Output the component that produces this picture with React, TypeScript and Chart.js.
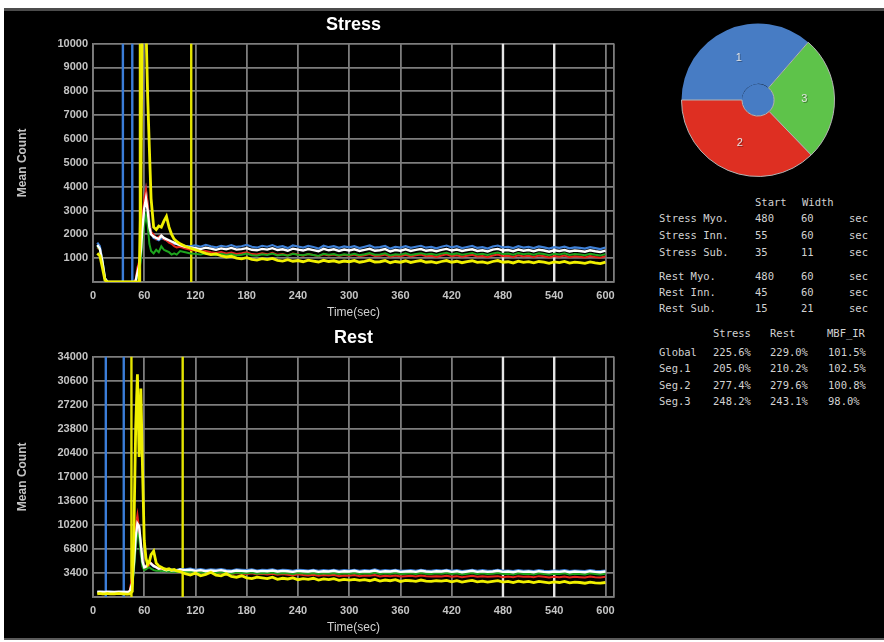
import React, { useEffect, useRef } from 'react';
import { Chart, registerables } from 'chart.js';

Chart.register(...registerables);

// ---------- data ----------
const sampleTimes = [
  5, 8, 11, 14, 17, 20, 25, 30, 35, 40, 43, 46, 48, 50, 52, 54, 56, 58, 60, 62, 64, 66, 68, 71, 74, 77, 80, 83, 86, 89, 92, 95, 98,
  102, 108, 114, 120, 126, 132, 138, 144, 150, 156, 162, 168, 174, 180, 186, 192, 198,
  204, 210, 216, 222, 228, 234, 240, 246, 252, 258, 264, 270, 276, 282, 288, 294, 300,
  306, 312, 318, 324, 330, 336, 342, 348, 354, 360, 366, 372, 378, 384, 390, 396, 402,
  408, 414, 420, 426, 432, 438, 444, 450, 456, 462, 468, 474, 480, 486, 492, 498, 504,
  510, 516, 522, 528, 534, 540, 546, 552, 558, 564, 570, 576, 582, 588, 594, 600,
];

const stressBlue = [
  1650, 1500, 900, 150, 0, 0, 0, 0, 0, 0, 0, 0, 0,
  50, 300, 600, 1200, 2200, 3200, 3800, 3200, 2500, 2100, 1850, 1800, 1750, 1850, 1800, 1750, 1700, 1650, 1600, 1600,
  1550, 1520, 1500, 1540, 1480, 1560, 1500, 1450, 1520, 1480, 1550, 1470, 1500, 1560, 1480, 1440, 1520,
  1480, 1550, 1460, 1500, 1420, 1530, 1490, 1440, 1510, 1470, 1400, 1520, 1460, 1500, 1430, 1490, 1450,
  1500, 1420, 1480, 1530, 1440, 1460, 1510, 1400, 1470, 1440, 1500, 1430, 1480, 1520, 1440, 1470, 1410,
  1480, 1530, 1450, 1500, 1420, 1470, 1510, 1430, 1460, 1400, 1490, 1530, 1450, 1470, 1420, 1500, 1440,
  1470, 1420, 1490, 1450, 1400, 1460, 1430, 1480, 1410, 1450, 1430, 1400, 1460, 1420, 1380, 1450,
];
const stressRed = [
  1450, 1350, 800, 120, 0, 0, 0, 0, 0, 0, 0, 0, 0,
  100, 600, 850, 1500, 2700, 3500, 3900, 3300, 2400, 2100, 2000, 1800, 1900, 1950, 1800, 1750, 1650, 1600, 1500, 1450,
  1480, 1400, 1350, 1320, 1280, 1300, 1250, 1220, 1260, 1200, 1240, 1180, 1210, 1250, 1170, 1150, 1200,
  1160, 1220, 1140, 1170, 1110, 1190, 1150, 1100, 1170, 1130, 1080, 1160, 1110, 1150, 1090, 1140, 1100,
  1150, 1080, 1120, 1170, 1090, 1100, 1150, 1060, 1110, 1080, 1140, 1070, 1120, 1150, 1080, 1100, 1050,
  1110, 1160, 1080, 1120, 1060, 1100, 1140, 1070, 1090, 1040, 1110, 1150, 1080, 1100, 1050, 1120, 1070,
  1100, 1050, 1110, 1080, 1030, 1090, 1060, 1110, 1040, 1080, 1060, 1030, 1090, 1050, 1020, 1080,
];
const stressGreen = [
  1500, 1350, 850, 130, 0, 0, 0, 0, 0, 0, 0, 0, 0,
  0, 300, 500, 900, 1700, 2400, 2800, 2400, 1600, 1300, 1200, 1350, 1250, 1500, 1350, 1300, 1250, 1150, 1200, 1150,
  1300, 1250, 1200, 1180, 1150, 1200, 1160, 1120, 1180, 1130, 1170, 1110, 1140, 1190, 1120, 1100, 1160,
  1130, 1190, 1110, 1150, 1100, 1180, 1140, 1120, 1170, 1130, 1090, 1180, 1140, 1170, 1110, 1160, 1130,
  1180, 1120, 1160, 1210, 1140, 1150, 1200, 1110, 1160, 1140, 1200, 1130, 1170, 1210, 1150, 1180, 1130,
  1190, 1230, 1160, 1200, 1140, 1180, 1220, 1150, 1180, 1130, 1200, 1240, 1170, 1190, 1140, 1210, 1160,
  1190, 1140, 1200, 1170, 1120, 1180, 1150, 1200, 1130, 1170, 1150, 1120, 1180, 1140, 1110, 1170,
];
const stressWhite = [
  1550, 1400, 850, 150, 0, 0, 0, 0, 0, 0, 0, 0, 0,
  50, 400, 700, 1300, 2300, 3100, 3500, 3000, 2300, 2000, 1900, 1850, 1800, 1950, 1850, 1800, 1750, 1700, 1650, 1600,
  1550, 1480, 1450, 1420, 1380, 1440, 1400, 1350, 1410, 1370, 1430, 1360, 1380, 1420, 1350, 1330, 1390,
  1360, 1420, 1340, 1370, 1310, 1400, 1360, 1320, 1380, 1340, 1290, 1390, 1330, 1370, 1300, 1360, 1320,
  1370, 1300, 1350, 1390, 1310, 1330, 1380, 1280, 1340, 1310, 1370, 1300, 1350, 1380, 1310, 1340, 1290,
  1350, 1390, 1320, 1360, 1300, 1340, 1370, 1300, 1330, 1280, 1360, 1390, 1320, 1340, 1290, 1360, 1310,
  1340, 1290, 1350, 1320, 1270, 1330, 1300, 1340, 1280, 1320, 1300, 1270, 1330, 1290, 1260, 1320,
];
const stressYellow = [
  1200, 1100, 600, 80, 0, 0, 0, 0, 0, 0, 0, 0, 0,
  0, 0, 0, 3500, 13000, 11000, 10800, 7800, 5600, 3500, 2300, 2200, 2350, 2300, 2550, 2750, 2300, 2000, 1800, 1700,
  1600, 1500, 1420, 1350, 1280, 1200, 1150, 1180, 1100, 1050, 1080, 1000, 970, 1020, 950, 920, 980,
  940, 990, 910, 880, 940, 870, 900, 850, 920, 880, 840, 910, 860, 890, 830, 880, 850,
  900, 830, 870, 920, 840, 850, 900, 810, 860, 830, 890, 820, 860, 900, 830, 850, 800,
  860, 900, 830, 870, 810, 850, 890, 820, 840, 790, 860, 900, 830, 850, 800, 870, 820,
  850, 800, 860, 830, 780, 840, 810, 860, 790, 830, 810, 780, 840, 800, 770, 830,
];

const restBlue = [
  750, 700, 750, 700, 700, 750, 700, 700, 750, 700, 800,
  1800, 4500, 8000, 10000, 9800, 7200, 4800, 4100, 4200, 4500, 4800, 4600, 4300, 4200, 4000, 4100, 3900, 3950, 3850, 3900, 3800, 3850,
  3950, 3900, 4000, 3850, 3950, 3800, 3900, 3850, 3950, 3800, 3750, 3900, 3850, 3800, 3900, 3750, 3850,
  3800, 3900, 3750, 3850, 3800, 3700, 3850, 3800, 3750, 3850, 3700, 3800, 3750, 3850, 3700, 3800, 3750,
  3850, 3700, 3800, 3750, 3900, 3700, 3800, 3750, 3850, 3700, 3750, 3800, 3700, 3850, 3750, 3700, 3800,
  3750, 3850, 3700, 3800, 3650, 3750, 3850, 3700, 3800, 3700, 3750, 3850, 3700, 3750, 3650, 3800, 3700,
  3750, 3650, 3800, 3700, 3650, 3750, 3700, 3800, 3650, 3750, 3700, 3650, 3800, 3700, 3650, 3750,
];
const restRed = [
  600, 550, 600, 600, 550, 600, 550, 600, 550, 600, 900,
  3000, 6500, 10000, 11600, 9500, 7000, 5000, 4200, 4000, 4200, 4600, 4800, 4500, 4200, 4000, 3900, 3800, 3900, 3700, 3800, 3700, 3650,
  3700, 3600, 3650, 3450, 3550, 3400, 3500, 3350, 3450, 3300, 3250, 3400, 3300, 3250, 3350, 3200, 3300,
  3200, 3300, 3150, 3250, 3150, 3050, 3200, 3100, 3050, 3150, 3000, 3100, 3050, 3150, 2950, 3050, 3000,
  3100, 2950, 3050, 3000, 3100, 2900, 3000, 2950, 3050, 2900, 2950, 3000, 2900, 3050, 2950, 2900, 2950,
  2900, 3000, 2850, 2950, 2800, 2900, 3000, 2850, 2950, 2850, 2900, 2950, 2800, 2900, 2800, 2950, 2850,
  2900, 2800, 2950, 2850, 2750, 2850, 2800, 2900, 2750, 2850, 2800, 2750, 2900, 2800, 2750, 2850,
];
const restGreen = [
  500, 550, 500, 500, 550, 500, 500, 550, 500, 500, 600,
  1500, 4000, 7000, 9000, 8500, 6000, 4300, 3800, 3900, 4100, 4200, 4000, 3800, 3700, 3750, 3650, 3700, 3600, 3650, 3550, 3600, 3550,
  3600, 3550, 3600, 3450, 3500, 3400, 3450, 3400, 3500, 3350, 3300, 3450, 3400, 3350, 3450, 3300, 3400,
  3350, 3450, 3300, 3400, 3350, 3250, 3400, 3350, 3300, 3400, 3250, 3350, 3300, 3400, 3250, 3350, 3300,
  3400, 3250, 3350, 3300, 3450, 3250, 3350, 3300, 3400, 3250, 3300, 3350, 3250, 3400, 3300, 3250, 3350,
  3300, 3400, 3250, 3350, 3200, 3300, 3400, 3250, 3350, 3250, 3300, 3400, 3250, 3300, 3200, 3350, 3250,
  3300, 3200, 3350, 3250, 3200, 3300, 3250, 3350, 3200, 3300, 3250, 3200, 3350, 3250, 3200, 3300,
];
const restWhite = [
  700, 750, 700, 700, 750, 700, 700, 750, 700, 700, 800,
  2000, 5000, 8500, 10400, 10000, 7500, 5000, 4200, 4300, 4700, 5000, 4700, 4400, 4200, 4000, 4100, 3900, 3800, 3900, 3750, 3800, 3700,
  3900, 3800, 3850, 3700, 3800, 3650, 3750, 3700, 3800, 3650, 3600, 3750, 3700, 3650, 3750, 3600, 3700,
  3650, 3750, 3600, 3700, 3650, 3550, 3700, 3650, 3600, 3700, 3550, 3650, 3600, 3700, 3550, 3650, 3600,
  3700, 3550, 3650, 3600, 3750, 3550, 3650, 3600, 3700, 3550, 3600, 3650, 3550, 3700, 3600, 3550, 3650,
  3600, 3700, 3550, 3650, 3500, 3600, 3700, 3550, 3650, 3550, 3600, 3700, 3550, 3600, 3500, 3650, 3550,
  3600, 3500, 3650, 3550, 3500, 3600, 3550, 3650, 3500, 3600, 3550, 3500, 3650, 3550, 3500, 3600,
];
const restYellow = [
  450, 500, 450, 450, 500, 450, 450, 500, 450, 400, 450,
  800, 10000, 24000, 31500, 19800, 29500, 18000, 8000, 5500, 4600, 5000, 6000, 6500, 4800, 4400, 4200, 4000, 3900, 4000, 3800, 3900, 3700,
  3600, 3300, 3100, 3400, 3000, 3200, 3500, 3100, 3000, 3300, 2900, 2800, 3000, 2700, 2600, 2800, 2700,
  2600, 2800, 2500, 2650, 2550, 2700, 2450, 2600, 2500, 2650, 2400, 2550, 2450, 2600, 2350, 2500, 2400,
  2500, 2350, 2450, 2300, 2500, 2250, 2400, 2300, 2450, 2200, 2350, 2300, 2200, 2400, 2250, 2200, 2300,
  2250, 2350, 2150, 2300, 2100, 2250, 2350, 2150, 2250, 2100, 2200, 2300, 2100, 2200, 2050, 2250, 2100,
  2200, 2050, 2200, 2100, 2000, 2150, 2050, 2200, 2000, 2100, 2050, 1950, 2100, 2000, 1950, 2050,
];

const xTickValues = [0, 60, 120, 180, 240, 300, 360, 420, 480, 540, 600];
const xAxisMax = 610;
const stressYMax = 10000;
const stressYStep = 1000;
const restYMax = 34000;
const restYStep = 3400;

const timingRows = ['Stress Myo.', 'Stress Inn.', 'Stress Sub.', 'Rest Myo.', 'Rest Inn.', 'Rest Sub.'];
const timingStart = [480, 55, 35, 480, 45, 15];
const timingWidth = [60, 60, 11, 60, 60, 21];

const resultRows = ['Global', 'Seg.1', 'Seg.2', 'Seg.3'];
const stressPct = [225.6, 205.0, 277.4, 248.2];
const restPct = [229.0, 210.2, 279.6, 243.1];
const mbfIr = [101.5, 102.5, 100.8, 98.0];

const pieLabels = ['1', '3', '2'];
const pieSizes = [131, 95, 134];

// ---------- styles ----------
const FONT = '"Liberation Sans", Arial, sans-serif';
const MONO = '"DejaVu Sans Mono", "Liberation Mono", monospace';
const GRID = '#7d7d7d';
const TICK = '#c4c4c4';
const C_BLUE = '#3f80d6';
const C_RED = '#e6261c';
const C_GREEN = '#1ea51e';
const C_WHITE = '#ffffff';
const C_YELLOW = '#f0f000';
const M_BLUE = '#3b7dd8';
const M_YELLOW = '#e4e400';
const M_WHITE = '#e6e6e6';
const PIE_BLUE = '#477cc4';
const PIE_GREEN = '#5ec34a';
const PIE_RED = '#de2f22';

function pts(values: number[]) {
  return sampleTimes.map((t, i) => ({ x: t, y: values[i] }));
}

function markerSet(x: number, yMax: number, color: string) {
  return {
    data: [{ x, y: 0 }, { x, y: yMax }],
    borderColor: color,
    borderWidth: 2.4,
    pointRadius: 0,
    order: 10,
  };
}

function buildConfig(opts: any) {
  const { title, titleTop, titleBottom, yMax, yStep, curves, rowOffset } = opts;
  const markerColors = [M_WHITE, M_YELLOW, M_BLUE];
  const markers: any[] = [];
  for (let k = 0; k < 3; k++) {
    const s = timingStart[rowOffset + k];
    const w = timingWidth[rowOffset + k];
    markers.push(markerSet(s, yMax, markerColors[k]));
    markers.push(markerSet(s + w, yMax, markerColors[k]));
  }
  const curveSets = [
    { data: pts(curves.yellow), borderColor: C_YELLOW, borderWidth: 2.8, order: 0 },
    { data: pts(curves.white), borderColor: C_WHITE, borderWidth: 2.4, order: 1 },
    { data: pts(curves.green), borderColor: C_GREEN, borderWidth: 2, order: 2 },
    { data: pts(curves.red), borderColor: C_RED, borderWidth: 2, order: 3 },
    { data: pts(curves.blue), borderColor: C_BLUE, borderWidth: 2.2, order: 4 },
  ].map((d) => ({ ...d, pointRadius: 0, tension: 0, fill: false }));

  return {
    type: 'line',
    data: { datasets: [...curveSets, ...markers] },
    options: {
      animation: false,
      responsive: false,
      events: [],
      layout: { padding: { left: 0, right: 26, top: 0, bottom: 0 } },
      plugins: {
        legend: { display: false },
        tooltip: { enabled: false },
        title: {
          display: true,
          text: title,
          color: '#ffffff',
          fullSize: false,
          font: { family: FONT, size: 18, weight: 'bold', lineHeight: 1.2 },
          padding: { top: titleTop, bottom: titleBottom },
        },
      },
      scales: {
        x: {
          type: 'linear',
          min: 0,
          max: xAxisMax,
          afterBuildTicks: (s: any) => {
            s.ticks = [...xTickValues, xAxisMax].map((v) => ({ value: v }));
          },
          afterFit: (s: any) => {
            s.height = 38;
          },
          ticks: {
            color: TICK,
            font: { family: FONT, size: 11, weight: 'bold' },
            padding: 7,
            autoSkip: false,
            maxRotation: 0,
            callback: (v: any) => (xTickValues.includes(v) ? String(v) : ''),
          },
          grid: { color: GRID, lineWidth: 1.8, drawTicks: false },
          border: { color: GRID, width: 1.8 },
          title: {
            display: true,
            text: 'Time(sec)',
            color: '#d0d0d0',
            font: { family: FONT, size: 12, lineHeight: 1.2 },
            padding: { top: 0, bottom: 0 },
          },
        },
        y: {
          min: 0,
          max: yMax,
          afterFit: (s: any) => {
            s.width = 93;
          },
          ticks: {
            stepSize: yStep,
            color: TICK,
            font: { family: FONT, size: 11, weight: 'bold' },
            padding: 5,
            callback: (v: any) => (v === 0 ? '' : String(v)),
          },
          grid: { color: GRID, lineWidth: 1.8, drawTicks: false },
          border: { color: GRID, width: 1.8 },
          title: {
            display: true,
            text: 'Mean Count',
            color: TICK,
            font: { family: FONT, size: 12, weight: 'bold', lineHeight: 1.2 },
            padding: { top: 15, bottom: 0 },
          },
        },
      },
    },
  };
}

function LineChart(props: any) {
  const ref = useRef<HTMLCanvasElement>(null);
  useEffect(() => {
    const chart = new Chart(ref.current as HTMLCanvasElement, buildConfig(props) as any);
    return () => chart.destroy();
  }, []);
  return (
    <canvas
      ref={ref}
      width={640}
      height={props.height}
      style={{ position: 'absolute', left: 0, top: props.top, width: 640, height: props.height }}
    />
  );
}

const pieLabelPlugin = {
  id: 'pieLabels',
  afterDatasetsDraw(chart: any) {
    const meta = chart.getDatasetMeta(0);
    const ctx = chart.ctx;
    ctx.save();
    ctx.font = `11px ${FONT}`;
    ctx.textAlign = 'center';
    ctx.textBaseline = 'middle';
    meta.data.forEach((arc: any, i: number) => {
      const p = arc.tooltipPosition(false);
      ctx.fillStyle = 'rgba(0,0,0,0.35)';
      ctx.fillText(pieLabels[i], p.x + 1, p.y + 1);
      ctx.fillStyle = '#e4e4e4';
      ctx.fillText(pieLabels[i], p.x, p.y);
    });
    ctx.restore();
  },
};

function PieChart() {
  const ref = useRef<HTMLCanvasElement>(null);
  useEffect(() => {
    const chart = new Chart(ref.current as HTMLCanvasElement, {
      type: 'pie',
      data: {
        labels: pieLabels,
        datasets: [
          {
            data: pieSizes,
            backgroundColor: [PIE_BLUE, PIE_GREEN, PIE_RED],
            borderColor: '#b4b4b4',
            borderWidth: [0, 1, 1],
            weight: 79,
          },
          {
            data: [1],
            backgroundColor: [PIE_BLUE],
            borderWidth: 0,
            weight: 21,
          },
        ],
      },
      options: {
        animation: false,
        responsive: false,
        events: [],
        rotation: -90,
        layout: { padding: 0 },
        plugins: { legend: { display: false }, tooltip: { enabled: false } },
      },
      plugins: [pieLabelPlugin],
    } as any);
    return () => chart.destroy();
  }, []);
  return (
    <canvas
      ref={ref}
      width={154}
      height={154}
      style={{ position: 'absolute', left: 681, top: 23, width: 154, height: 154 }}
    />
  );
}

const txt: React.CSSProperties = {
  position: 'absolute',
  fontFamily: MONO,
  fontSize: 10.5,
  lineHeight: '14px',
  color: '#d2d2d2',
  whiteSpace: 'pre',
};

function Tables() {
  const timingY = [218, 235, 252, 276, 292, 308];
  const resultY = [352, 368, 385, 401];
  const items: any[] = [];
  items.push(<span key="hs" style={{ ...txt, left: 755, top: 202 - 7 }}>Start</span>);
  items.push(<span key="hw" style={{ ...txt, left: 802, top: 202 - 7 }}>Width</span>);
  timingRows.forEach((r, i) => {
    const top = timingY[i] - 7;
    items.push(<span key={'tl' + i} style={{ ...txt, left: 659, top }}>{r}</span>);
    items.push(<span key={'ts' + i} style={{ ...txt, left: 755, top }}>{String(timingStart[i])}</span>);
    items.push(<span key={'tw' + i} style={{ ...txt, left: 801, top }}>{String(timingWidth[i])}</span>);
    items.push(<span key={'tu' + i} style={{ ...txt, left: 849, top }}>sec</span>);
  });
  items.push(<span key="h1" style={{ ...txt, left: 713, top: 333 - 7 }}>Stress</span>);
  items.push(<span key="h2" style={{ ...txt, left: 770, top: 333 - 7 }}>Rest</span>);
  items.push(<span key="h3" style={{ ...txt, left: 827, top: 333 - 7 }}>MBF_IR</span>);
  resultRows.forEach((r, i) => {
    const top = resultY[i] - 7;
    items.push(<span key={'rl' + i} style={{ ...txt, left: 659, top }}>{r}</span>);
    items.push(<span key={'r1' + i} style={{ ...txt, left: 713, top }}>{stressPct[i].toFixed(1) + '%'}</span>);
    items.push(<span key={'r2' + i} style={{ ...txt, left: 770, top }}>{restPct[i].toFixed(1) + '%'}</span>);
    items.push(<span key={'r3' + i} style={{ ...txt, left: 828, top }}>{mbfIr[i].toFixed(1) + '%'}</span>);
  });
  return <>{items}</>;
}

export default function App() {
  useEffect(() => {
    document.body.style.margin = '0';
    document.body.style.background = '#ffffff';
  }, []);
  return (
    <div style={{ position: 'relative', width: 884, height: 642, background: '#ffffff', overflow: 'hidden' }}>
      <div
        style={{
          position: 'absolute',
          left: 4,
          top: 8,
          width: 880,
          height: 632,
          background: '#000000',
          borderTop: '3px solid #4c4c4c',
          borderBottom: '2px solid #5a5a5a',
          boxSizing: 'border-box',
        }}
      />
      <LineChart
        top={0}
        height={320}
        title="Stress"
        titleTop={14}
        titleBottom={8}
        yMax={stressYMax}
        yStep={stressYStep}
        rowOffset={0}
        curves={{ blue: stressBlue, red: stressRed, green: stressGreen, white: stressWhite, yellow: stressYellow }}
      />
      <LineChart
        top={318}
        height={317}
        title="Rest"
        titleTop={9}
        titleBottom={8}
        yMax={restYMax}
        yStep={restYStep}
        rowOffset={3}
        curves={{ blue: restBlue, red: restRed, green: restGreen, white: restWhite, yellow: restYellow }}
      />
      <PieChart />
      <Tables />
    </div>
  );
}
